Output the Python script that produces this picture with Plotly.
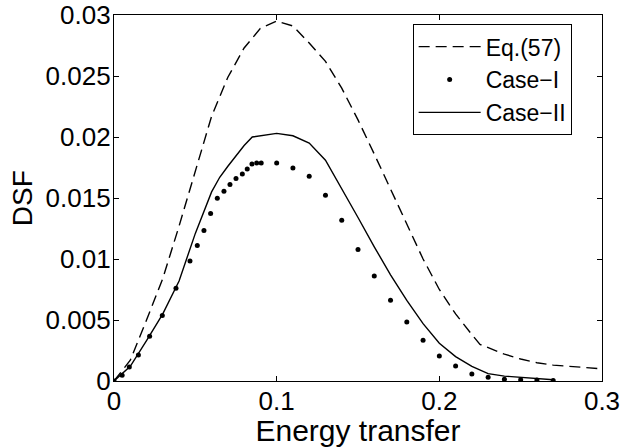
import plotly.graph_objects as go

# Eq.(57) dashed curve
x_eq = [0, 0.01, 0.02, 0.03, 0.04, 0.05, 0.06, 0.065, 0.07, 0.08, 0.09, 0.1,
        0.11, 0.12, 0.13, 0.14, 0.15, 0.16, 0.17, 0.18, 0.19, 0.2, 0.21, 0.22,
        0.225, 0.24, 0.25, 0.26, 0.27, 0.28, 0.29, 0.3]
y_eq = [0, 0.0017, 0.0050, 0.0084, 0.0127, 0.0171, 0.0217, 0.0233, 0.0249, 0.0273, 0.0289, 0.0295,
        0.0291, 0.0277, 0.0262, 0.0240, 0.0214, 0.0186, 0.0157, 0.0128, 0.0100, 0.0075, 0.0055, 0.0038,
        0.0030, 0.0022, 0.0018, 0.0015, 0.0013, 0.0012, 0.0011, 0.0010]

# Case-I dots
x_c1 = [0, 0.005, 0.0094, 0.015, 0.0219, 0.0297, 0.0381, 0.0467, 0.0512, 0.0553, 0.0594,
        0.0635, 0.0676, 0.0713, 0.075, 0.0789, 0.0819, 0.0848, 0.0877, 0.0905, 0.1,
        0.11, 0.12, 0.13, 0.14, 0.15, 0.16, 0.17, 0.18, 0.19, 0.2, 0.21, 0.22,
        0.23, 0.24, 0.25, 0.26, 0.27]
y_c1 = [0, 0.00047, 0.00115, 0.00213, 0.00366, 0.00536, 0.0076, 0.00984, 0.0111, 0.01233, 0.01372,
        0.01498, 0.01555, 0.0161, 0.01659, 0.01697, 0.01738, 0.01779, 0.01787, 0.01787, 0.01787,
        0.01746, 0.01678, 0.01522, 0.01317, 0.01077, 0.0086, 0.00661, 0.00484, 0.00333, 0.00205, 0.00123, 0.00058,
        0.0003, 0.00014, 0.0001, 0.00008, 0.00005]

# Case-II solid curve
x_c2 = [0, 0.01, 0.02, 0.03, 0.04, 0.05, 0.06, 0.065, 0.07, 0.08, 0.085, 0.09, 0.1,
        0.11, 0.12, 0.13, 0.14, 0.15, 0.16, 0.17, 0.18, 0.19, 0.2, 0.21, 0.22,
        0.23, 0.24, 0.25, 0.26, 0.27]
y_c2 = [0, 0.0012, 0.0033, 0.0055, 0.0082, 0.0121, 0.0155, 0.0167, 0.0176, 0.0193, 0.0200, 0.0201, 0.0203,
        0.0201, 0.0195, 0.0181, 0.0158, 0.0134, 0.0110, 0.0087, 0.0066, 0.0047, 0.0031, 0.0020, 0.0012,
        0.0006, 0.0004, 0.0003, 0.0002, 0.0001]

x_ticks = [0, 0.1, 0.2, 0.3]
x_tick_text = ["0", "0.1", "0.2", "0.3"]
y_ticks = [0, 0.005, 0.01, 0.015, 0.02, 0.025, 0.03]
y_tick_text = ["0", "0.005", "0.01", "0.015", "0.02", "0.025", "0.03"]

FONT = "Liberation Sans, Arial, Helvetica, sans-serif"

fig = go.Figure()
fig.add_trace(go.Scatter(x=x_eq, y=y_eq, mode="lines", name="Eq.(57)",
                         line=dict(color="black", width=1.4, dash="11px,6px")))
fig.add_trace(go.Scatter(x=x_c1, y=y_c1, mode="markers", name="Case\u2212I",
                         marker=dict(color="black", size=5, symbol="circle")))
fig.add_trace(go.Scatter(x=x_c2, y=y_c2, mode="lines", name="Case\u2212II",
                         line=dict(color="black", width=1.4)))

axis_common = dict(
    showgrid=False, zeroline=False, showline=True, linecolor="black", linewidth=1.3,
    mirror="ticks", ticks="inside", ticklen=5, tickwidth=1, tickcolor="black",
    tickfont=dict(family=FONT, size=26, color="black"), automargin=False,
)

fig.update_layout(
    width=623, height=447,
    margin=dict(l=114, r=21, t=15, b=66, autoexpand=False),
    paper_bgcolor="white", plot_bgcolor="white",
    font=dict(family=FONT, color="black"),
    xaxis=dict(range=[0, 0.3], tickvals=x_ticks, ticktext=x_tick_text,
               ticklabelstandoff=-3,
               title=dict(text="Energy transfer", font=dict(family=FONT, size=30), standoff=1),
               **axis_common),
    yaxis=dict(range=[0, 0.03], tickvals=y_ticks, ticktext=y_tick_text,
               ticklabelstandoff=-3, **axis_common),
    annotations=[dict(text="DSF", textangle=-90, xref="paper", yref="paper",
                      x=-0.188, y=0.5, xanchor="center", yanchor="middle", showarrow=False,
                      font=dict(family=FONT, size=28, color="black"))],
    legend=dict(x=0.612, y=0.975, xanchor="left", yanchor="top",
                bordercolor="black", borderwidth=1, bgcolor="white",
                font=dict(family=FONT, size=23, color="black"),
                tracegroupgap=0, itemwidth=62),
    showlegend=True,
)

fig.write_html("out.html")
